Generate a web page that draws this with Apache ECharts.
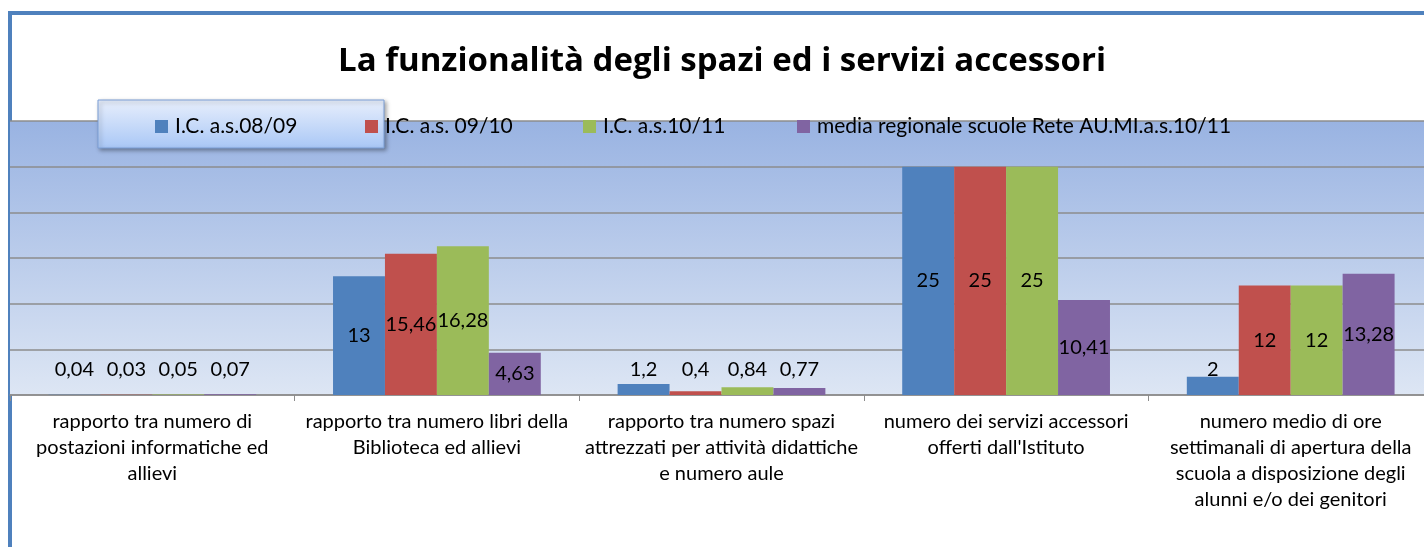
<!DOCTYPE html>
<html>
<head>
<meta charset="utf-8">
<title>La funzionalità degli spazi ed i servizi accessori</title>
<script src="https://cdn.jsdelivr.net/npm/echarts@6/dist/echarts.min.js"></script>
<style>
  html, body { margin: 0; padding: 0; background: #fff; }
  #chart { width: 1424px; height: 547px; }
</style>
</head>
<body>
<div id="chart"></div>
<script>
// categorie (asse x)
var categories = [
  "rapporto tra numero di\npostazioni informatiche ed\nallievi",
  "rapporto tra numero libri della\nBiblioteca ed allievi",
  "rapporto tra numero spazi\nattrezzati per attività didattiche\ne numero aule",
  "numero dei servizi accessori\nofferti dall'Istituto",
  "numero medio di ore\nsettimanali di apertura della\nscuola a disposizione degli\nalunni e/o dei genitori"
];

// serie
var seriesNames = [
  "I.C. a.s.08/09",
  "I.C. a.s. 09/10",
  "I.C. a.s.10/11",
  "media regionale scuole Rete AU.MI.a.s.10/11"
];
var ic0809 = [0.04, 13, 1.2, 25, 2];
var ic0910 = [0.03, 15.46, 0.4, 25, 12];
var ic1011 = [0.05, 16.28, 0.84, 25, 12];
var mediaRegionale = [0.07, 4.63, 0.77, 10.41, 13.28];

var colors = ["#4F81BD", "#C0504D", "#9BBB59", "#8064A2"];
var FONT = "Lato, 'Open Sans', sans-serif";
var legendLeft = [150, 360, 578, 792]; // posizione di ogni voce della legenda

// etichette: centrate nella barra, per i valori piccoli sopra l'asse
function buildData(arr) {
  return arr.map(function (v) {
    if (v < 3) {
      return { value: v, label: { position: "insideBottom", distance: 15 } };
    }
    return { value: v, label: { position: "inside" } };
  });
}

var myChart = echarts.init(document.getElementById("chart"));

var option = {
  animation: false,
  color: colors,
  title: {
    text: "La funzionalità degli spazi ed i servizi accessori",
    left: 717,
    textAlign: "center",
    top: 40,
    textStyle: { fontFamily: "'Open Sans', sans-serif", fontSize: 33, fontWeight: "bold", color: "#000" }
  },
  graphic: [
    {
      // cornice del grafico
      type: "rect",
      z: -10,
      shape: { x: 10, y: 13, width: 1440, height: 560 },
      style: { fill: "#fff", stroke: "#4F81BD", lineWidth: 4 }
    },
    {
      // riquadro legenda
      type: "rect",
      z: 5,
      shape: { x: 98, y: 100, width: 286, height: 48 },
      style: {
        fill: new echarts.graphic.LinearGradient(0, 0, 0, 1, [
          { offset: 0, color: "#E8EFFC" },
          { offset: 1, color: "#A9C7F6" }
        ]),
        stroke: "#7A9ED6",
        lineWidth: 1,
        shadowBlur: 4,
        shadowOffsetX: 2,
        shadowOffsetY: 2,
        shadowColor: "rgba(0,0,0,0.35)"
      }
    }
  ],
  legend: seriesNames.map(function (name, i) {
    return {
      data: [name],
      left: legendLeft[i],
      top: 111,
      z: 10,
      itemWidth: 13,
      itemHeight: 13,
      icon: "rect",
      textStyle: { fontFamily: FONT, fontSize: 21, color: "#000", padding: [0, 0, 0, 2] }
    };
  }),
  grid: {
    left: 10,
    right: -9,
    top: 121,
    bottom: 152,
    outerBoundsMode: "none",
    show: true,
    borderWidth: 0,
    backgroundColor: new echarts.graphic.LinearGradient(0, 0, 0, 1, [
      { offset: 0, color: "#99B3E2" },
      { offset: 1, color: "#DDE6F4" }
    ])
  },
  xAxis: {
    type: "category",
    data: categories,
    axisLine: { lineStyle: { color: "#8C8C8C", width: 1.5 } },
    axisTick: { show: true, length: 6, lineStyle: { color: "#8C8C8C" } },
    axisLabel: {
      interval: 0,
      margin: 14,
      fontFamily: FONT,
      fontSize: 20,
      lineHeight: 26,
      color: "#000"
    }
  },
  yAxis: {
    type: "value",
    min: 0,
    max: 30,
    interval: 5,
    axisLabel: { show: false },
    axisLine: { show: false },
    axisTick: { show: false },
    splitLine: { lineStyle: { color: "#8C8C8C", width: 1.5 } }
  },
  series: [ic0809, ic0910, ic1011, mediaRegionale].map(function (arr, i) {
    return {
      name: seriesNames[i],
      type: "bar",
      data: buildData(arr),
      barGap: "0%",
      barCategoryGap: "27%",
      label: {
        show: true,
        fontFamily: FONT,
        fontSize: 20,
        color: "#000",
        formatter: function (p) {
          return String(p.value).replace(".", ",");
        }
      }
    };
  })
};

myChart.setOption(option);
</script>
</body>
</html>
